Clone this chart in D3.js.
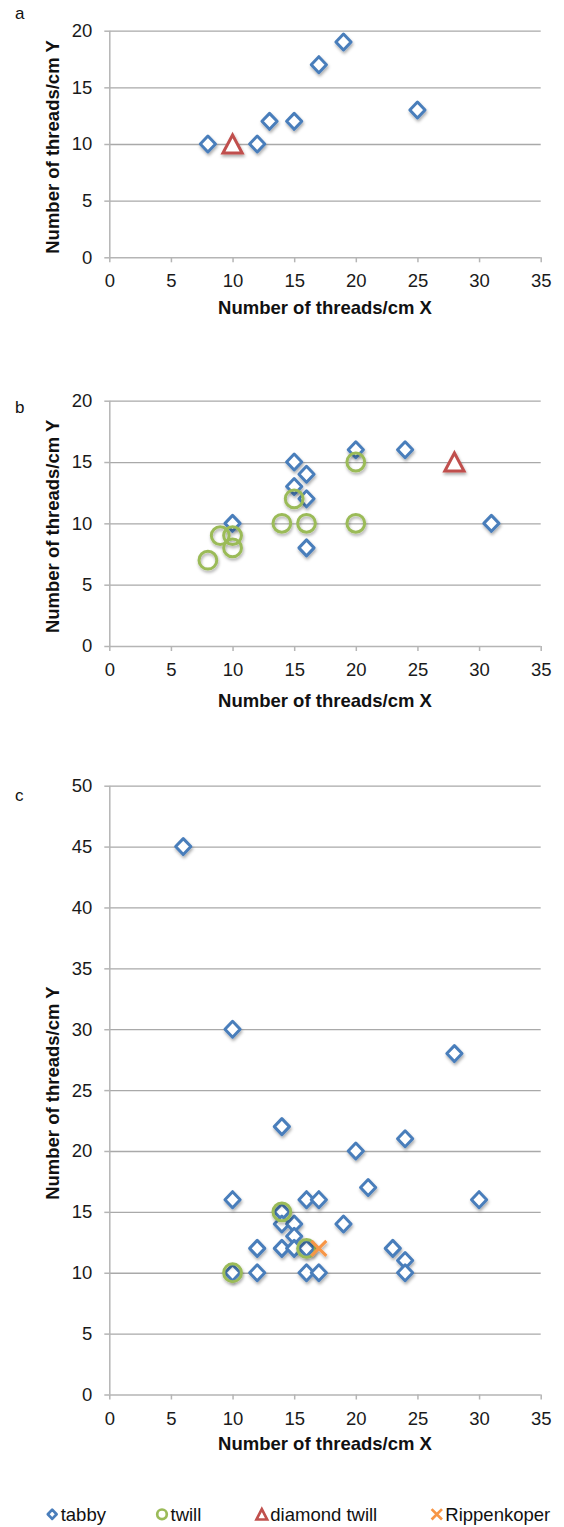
<!DOCTYPE html>
<html>
<head>
<meta charset="utf-8">
<script src="https://cdn.jsdelivr.net/npm/d3@7"></script>
<style>
  html, body { margin: 0; padding: 0; background: #fff; }
  svg { display: block; font-family: "Liberation Sans", Arial, sans-serif; }
</style>
</head>
<body>
<svg id="chart" width="564" height="1527"></svg>
<script>
// Thread counts per cm (X, Y) for each weave type, one set per panel.
const xTicks = [0, 5, 10, 15, 20, 25, 30, 35];
const yTicksAB = [0, 5, 10, 15, 20];
const yTicksC = [0, 5, 10, 15, 20, 25, 30, 35, 40, 45, 50];

const tabbyA = [[8, 10], [12, 10], [13, 12], [15, 12], [17, 17], [19, 19], [25, 13]];
const diamondTwillA = [[10, 10]];

const tabbyB = [[20, 16], [24, 16], [15, 15], [16, 14], [15, 13], [16, 12], [16, 8], [10, 10], [31, 10]];
const twillB = [[8, 7], [9, 9], [10, 9], [10, 8], [14, 10], [16, 10], [15, 12], [20, 15], [20, 10]];
const diamondTwillB = [[28, 15]];

const tabbyC = [[6, 45], [10, 30], [28, 28], [14, 22], [24, 21], [20, 20], [21, 17],
  [10, 16], [16, 16], [17, 16], [30, 16], [14, 15], [14, 14], [15, 14], [19, 14],
  [15, 13], [12, 12], [14, 12], [15, 12], [16, 12], [23, 12], [24, 11],
  [10, 10], [12, 10], [16, 10], [17, 10], [24, 10]];
const twillC = [[14, 15], [10, 10], [16, 12]];
const rippenkoperC = [[17, 12]];

const legendLabels = ["tabby", "twill", "diamond twill", "Rippenkoper"];

const colors = { tabby: "#4a7ebb", twill: "#9bbb59", diamond: "#c0504d", rippen: "#f79646" };

const svg = d3.select("#chart");

// soft drop shadow under the markers
const defs = svg.append("defs");
const f = defs.append("filter").attr("id", "shadow")
  .attr("x", "-50%").attr("y", "-50%").attr("width", "200%").attr("height", "200%");
f.append("feDropShadow").attr("dx", 0.8).attr("dy", 2.2).attr("stdDeviation", 1.5)
  .attr("flood-color", "#000").attr("flood-opacity", 0.33);

const plotLeft = 109.3, plotRight = 540.7;

const panels = [
  { label: "a", labelY: 19, top: 30.7, bottom: 257.3, yMax: 20, yTicks: yTicksAB, titleGap: 50,
    series: [["tabby", tabbyA], ["diamond", diamondTwillA]] },
  { label: "b", labelY: 413, top: 400.7, bottom: 646, yMax: 20, yTicks: yTicksAB, titleGap: 54,
    series: [["tabby", tabbyB], ["twill", twillB], ["diamond", diamondTwillB]] },
  { label: "c", labelY: 801, top: 785.7, bottom: 1394.5, yMax: 50, yTicks: yTicksC, titleGap: 49,
    series: [["tabby", tabbyC], ["twill", twillC], ["rippen", rippenkoperC]] }
];

function marker(sel, type, big) {
  const sw = big ? 3 : 2.7;
  if (type === "tabby") {
    const h = big ? 7.6 : 4.4;
    sel.append("path").attr("d", `M0,${-h * 1.05}L${h},0L0,${h * 1.05}L${-h},0Z`)
      .attr("fill", "#fff").attr("stroke", colors.tabby).attr("stroke-width", sw)
      .attr("stroke-linejoin", "round");
  } else if (type === "twill") {
    sel.append("circle").attr("r", big ? 8.9 : 4.8)
      .attr("fill", "none").attr("stroke", colors.twill).attr("stroke-width", sw);
  } else if (type === "diamond") {
    const w = big ? 9.6 : 5.3, hh = big ? 9 : 5.2;
    sel.append("path").attr("d", `M0,${-hh}L${w},${hh}L${-w},${hh}Z`)
      .attr("fill", "#fff").attr("stroke", colors.diamond).attr("stroke-width", sw)
      .attr("stroke-linejoin", "miter");
  } else {
    const a = big ? 7.5 : 5.2;
    sel.append("path").attr("d", `M${-a},${-a}L${a},${a}M${-a},${a}L${a},${-a}`)
      .attr("fill", "none").attr("stroke", colors.rippen).attr("stroke-width", sw);
  }
}

const x = d3.scaleLinear().domain([0, 35]).range([plotLeft, plotRight]);

panels.forEach(p => {
  const y = d3.scaleLinear().domain([0, p.yMax]).range([p.bottom, p.top]);
  const g = svg.append("g");

  // panel letter
  g.append("text").attr("x", 15).attr("y", p.labelY).attr("font-size", 17)
    .attr("fill", "#111").text(p.label);

  // horizontal gridlines
  const grid = g.append("g").attr("transform", `translate(${plotLeft},0)`)
    .call(d3.axisLeft(y).tickValues(p.yTicks.slice(1)).tickSize(-(plotRight - plotLeft)).tickFormat(""));
  grid.select(".domain").remove();
  grid.selectAll("line").attr("stroke", "#a9a9a9").attr("stroke-width", 1.3);

  // y axis with labels
  const ya = g.append("g").attr("transform", `translate(${plotLeft},0)`)
    .call(d3.axisLeft(y).tickValues(p.yTicks).tickSize(5).tickPadding(12).tickFormat(d3.format("d")));
  ya.select(".domain").attr("stroke", "#b5b5b5").attr("stroke-width", 1.5)
    .attr("d", `M0.5,${p.top}V${p.bottom}`);
  ya.selectAll("line").attr("stroke", "#b5b5b5").attr("stroke-width", 1.5);
  ya.selectAll("text").attr("font-size", 18.5).attr("fill", "#1a1a1a")
    .attr("font-family", "Liberation Sans, Arial, sans-serif");

  // x axis with labels
  const xa = g.append("g").attr("transform", `translate(0,${p.bottom})`)
    .call(d3.axisBottom(x).tickValues(xTicks).tickSize(5).tickPadding(12).tickFormat(d3.format("d")));
  xa.select(".domain").attr("stroke", "#b5b5b5").attr("stroke-width", 1.5)
    .attr("d", `M${plotLeft},0.5H${plotRight}`);
  xa.selectAll("line").attr("stroke", "#b5b5b5").attr("stroke-width", 1.5);
  xa.selectAll("text").attr("font-size", 18.5).attr("fill", "#1a1a1a")
    .attr("font-family", "Liberation Sans, Arial, sans-serif");

  // axis titles
  g.append("text").attr("x", (plotLeft + plotRight) / 2).attr("y", p.bottom + p.titleGap)
    .attr("text-anchor", "middle").attr("dominant-baseline", "central")
    .attr("font-size", 18.5).attr("font-weight", "bold").attr("fill", "#111")
    .text("Number of threads/cm X");
  g.append("text")
    .attr("transform", `translate(52,${(p.top + p.bottom) / 2 + 3}) rotate(-90)`)
    .attr("text-anchor", "middle").attr("dominant-baseline", "central")
    .attr("font-size", 18.5).attr("font-weight", "bold").attr("fill", "#111")
    .text("Number of threads/cm Y");

  // markers
  p.series.forEach(([type, pts]) => {
    g.append("g").attr("filter", "url(#shadow)")
      .selectAll("g").data(pts).join("g")
      .attr("transform", d => `translate(${x(d[0])},${y(d[1])})`)
      .each(function () { marker(d3.select(this), type, true); });
  });
});

// legend
const legendTypes = ["tabby", "twill", "diamond", "rippen"];
const legendMarkX = [52.2, 162, 261.8, 436.8];
const lg = svg.append("g");
legendTypes.forEach((t, i) => {
  const m = lg.append("g").attr("transform", `translate(${legendMarkX[i]},1514.3)`);
  marker(m, t, false);
  lg.append("text").attr("x", legendMarkX[i] + 8.5).attr("y", 1514.8)
    .attr("dominant-baseline", "central").attr("font-size", 18.5).attr("fill", "#111")
    .text(legendLabels[i]);
});
</script>
</body>
</html>
